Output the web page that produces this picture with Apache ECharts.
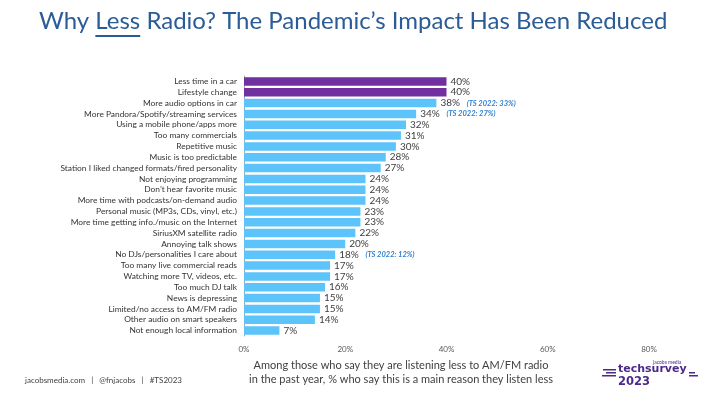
<!DOCTYPE html>
<html>
<head>
<meta charset="utf-8">
<script src="https://cdn.jsdelivr.net/npm/echarts@6/dist/echarts.min.js"></script>
<style>
  html, body { margin: 0; padding: 0; background: #fff; }
  #chart { width: 726px; height: 396px; }
</style>
</head>
<body>
<div id="chart"></div>
<script>
const categories = [
  'Less time in a car',
  'Lifestyle change',
  'More audio options in car',
  'More Pandora/Spotify/streaming services',
  'Using a mobile phone/apps more',
  'Too many commercials',
  'Repetitive music',
  'Music is too predictable',
  'Station I liked changed formats/fired personality',
  'Not enjoying programming',
  'Don\u2019t hear favorite music',
  'More time with podcasts/on-demand audio',
  'Personal music (MP3s, CDs, vinyl, etc.)',
  'More time getting info./music on the Internet',
  'SiriusXM satellite radio',
  'Annoying talk shows',
  'No DJs/personalities I care about',
  'Too many live commercial reads',
  'Watching more TV, videos, etc.',
  'Too much DJ talk',
  'News is depressing',
  'Limited/no access to AM/FM radio',
  'Other audio on smart speakers',
  'Not enough local information'
];
const values = [40, 40, 38, 34, 32, 31, 30, 28, 27, 24, 24, 24, 23, 23, 22, 20, 18, 17, 17, 16, 15, 15, 14, 7];
const notes = ['', '', '(TS 2022: 33%)', '(TS 2022: 27%)', '', '', '', '', '', '', '', '', '', '', '', '', '(TS 2022: 12%)', '', '', '', '', '', '', ''];
const highlighted = 2; // first two bars in purple
const xTicks = [0, 20, 40, 60, 80];

const titleFont = '24px Lato';
const titleLeft = 39;
const titleTop = 9;

// measure "Why " / "Less" so the underline sits under the word
const ctx = document.createElement('canvas').getContext('2d');
ctx.font = titleFont;
const preW = ctx.measureText('Why ').width;
const lessW = ctx.measureText('Less').width;

const chart = echarts.init(document.getElementById('chart'));

chart.setOption({
  backgroundColor: '#ffffff',
  animation: false,
  grid: { left: 244, right: 77, top: 76, bottom: 60, containLabel: false },
  xAxis: {
    type: 'value',
    min: xTicks[0],
    max: xTicks[xTicks.length - 1],
    interval: 20,
    axisLine: { show: false },
    axisTick: { show: false },
    splitLine: { show: false },
    axisLabel: {
      formatter: '{value}%',
      fontFamily: 'Lato',
      fontSize: 8,
      color: '#595959',
      margin: 9
    }
  },
  yAxis: {
    type: 'category',
    inverse: true,
    data: categories,
    axisLine: { show: true, lineStyle: { color: '#a6a6a6', width: 1 } },
    axisTick: { show: false },
    axisLabel: {
      interval: 0,
      fontFamily: 'Lato',
      fontSize: 8.4,
      color: '#333333',
      margin: 7
    }
  },
  series: [{
    type: 'bar',
    barCategoryGap: '22%',
    data: values.map((v, i) => ({
      value: v,
      itemStyle: { color: i < highlighted ? '#7030a0' : '#5cc4fb' }
    })),
    label: {
      show: true,
      position: 'right',
      distance: 4,
      formatter: p => notes[p.dataIndex]
        ? '{v|' + p.value + '%}  {n|' + notes[p.dataIndex] + '}'
        : '{v|' + p.value + '%}',
      rich: {
        v: { fontFamily: 'Lato', fontSize: 10, color: '#404040' },
        n: { fontFamily: 'Lato', fontSize: 7.5, fontStyle: 'italic', fontWeight: 'bold', color: '#2f80d0' }
      }
    }
  }],
  graphic: [
    {
      type: 'text',
      left: titleLeft,
      top: titleTop,
      style: {
        text: 'Why Less Radio? The Pandemic\u2019s Impact Has Been Reduced',
        font: titleFont,
        fill: '#2b5c97'
      }
    },
    {
      type: 'rect',
      shape: { x: titleLeft + preW, y: titleTop + 26, width: lessW, height: 2 },
      style: { fill: '#2b5c97' }
    },
    {
      type: 'text',
      x: 401,
      y: 358,
      style: {
        text: 'Among those who say they are listening less to AM/FM radio\nin the past year, % who say this is a main reason they listen less',
        fontFamily: 'Lato',
        fontSize: 11,
        lineHeight: 14,
        align: 'center',
        fill: '#404040'
      }
    },
    {
      type: 'text',
      left: 25,
      top: 376,
      style: {
        text: 'jacobsmedia.com   |   @fnjacobs   |   #TS2023',
        fontFamily: 'Lato',
        fontSize: 8,
        fill: '#404040'
      }
    },
    // techsurvey logo
    { type: 'rect', shape: { x: 603, y: 369, width: 13, height: 1.5 }, style: { fill: '#4b2a8c' } },
    { type: 'rect', shape: { x: 606, y: 372, width: 10, height: 1.5 }, style: { fill: '#4b2a8c' } },
    { type: 'rect', shape: { x: 602, y: 375, width: 14, height: 1.5 }, style: { fill: '#4b2a8c' } },
    { type: 'rect', shape: { x: 689, y: 372, width: 6, height: 1.5 }, style: { fill: '#4b2a8c' } },
    { type: 'rect', shape: { x: 689, y: 375, width: 9, height: 1.5 }, style: { fill: '#4b2a8c' } },
    {
      type: 'text',
      left: 653,
      top: 360,
      style: {
        text: 'jacobs media',
        fontFamily: 'Lato',
        fontSize: 5,
        fill: '#4b2a8c'
      }
    },
    {
      type: 'text',
      left: 618,
      top: 364,
      style: {
        text: 'techsurvey',
        fontFamily: 'DejaVu Sans',
        fontWeight: 'bold',
        fontSize: 11,
        fill: '#4b2a8c'
      }
    },
    {
      type: 'text',
      left: 618,
      top: 376,
      style: {
        text: '2023',
        fontFamily: 'DejaVu Sans',
        fontWeight: 'bold',
        fontSize: 11.5,
        fill: '#4b2a8c'
      }
    }
  ]
});
</script>
</body>
</html>
